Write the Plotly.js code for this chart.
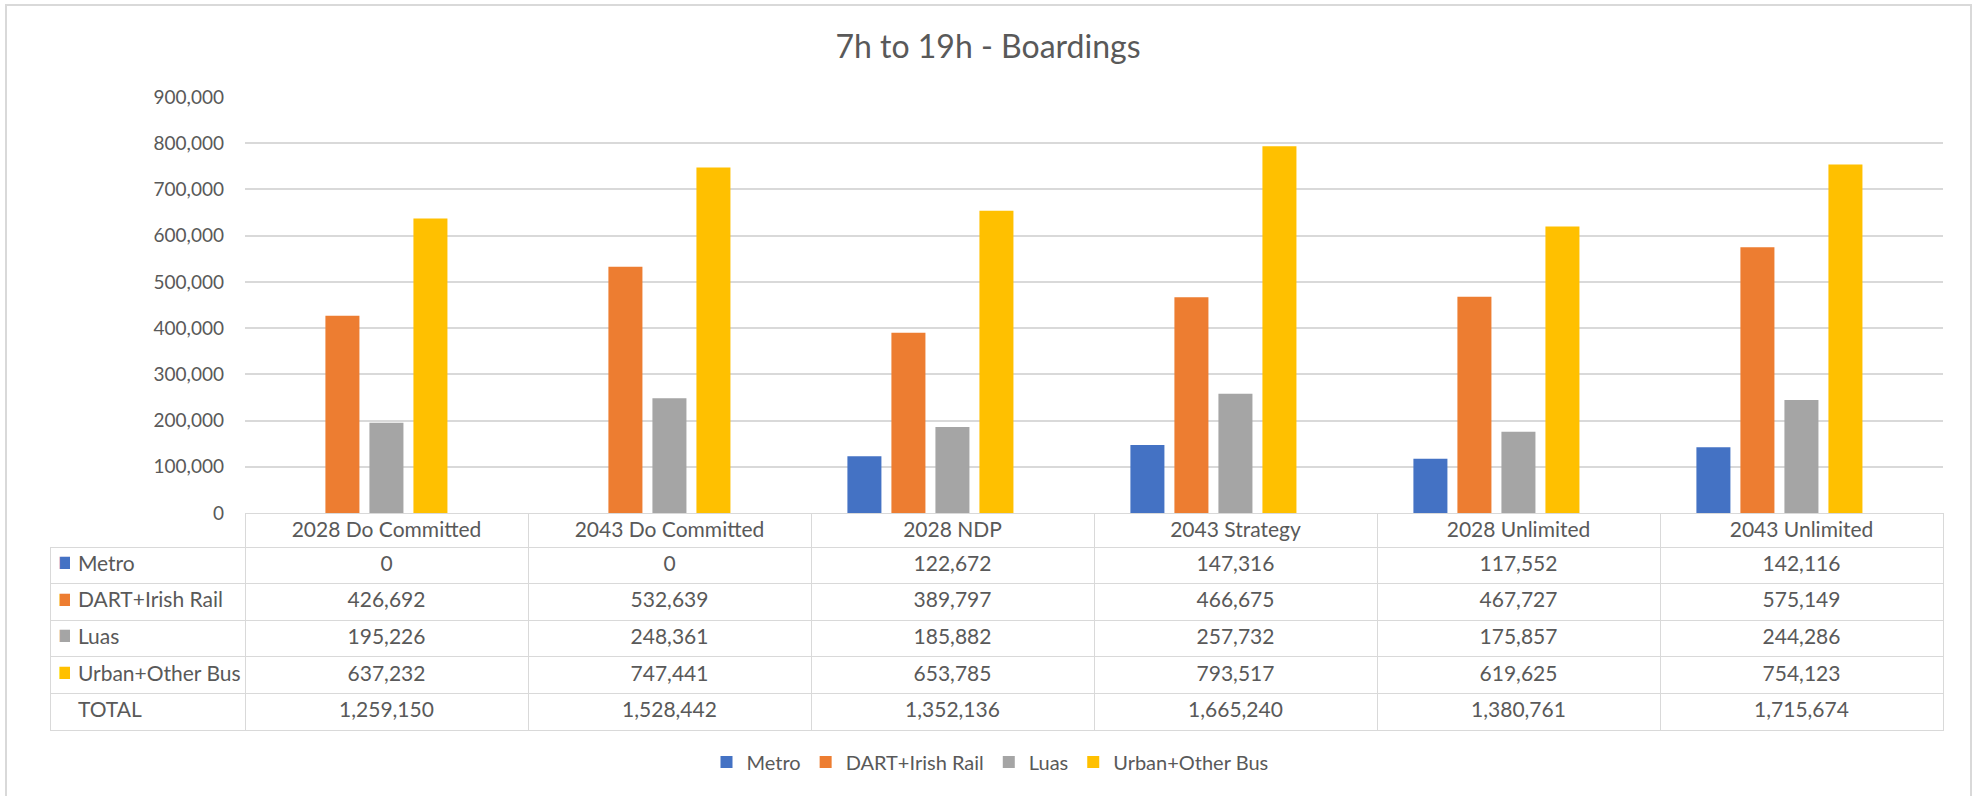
<!DOCTYPE html>
<html>
<head>
<meta charset="utf-8">
<script src="https://cdn.plot.ly/plotly-3.0.1.min.js"></script>
<style>html,body{margin:0;padding:0;background:#fff;}#chart{width:1973px;height:796px;}</style>
</head>
<body>
<div id="chart"></div>
<script>
// ---- data ----
const categories = ["2028 Do Committed", "2043 Do Committed", "2028 NDP", "2043 Strategy", "2028 Unlimited", "2043 Unlimited"];
const seriesNames = ["Metro", "DART+Irish Rail", "Luas", "Urban+Other Bus"];
const metro = [0, 0, 122672, 147316, 117552, 142116];
const dartIrishRail = [426692, 532639, 389797, 466675, 467727, 575149];
const luas = [195226, 248361, 185882, 257732, 175857, 244286];
const urbanOtherBus = [637232, 747441, 653785, 793517, 619625, 754123];
const totals = [1259150, 1528442, 1352136, 1665240, 1380761, 1715674];
const totalLabel = "TOTAL";
const titleText = "7h to 19h - Boardings";

// ---- styling ----
const colors = ["#4472C4", "#ED7D31", "#A5A5A5", "#FFC000"];
const textColor = "#595959";
const gridColor = "#D9D9D9";
const fontFamily = "Lato, 'Open Sans', sans-serif";
const W = 1973, H = 796;
const clear = "rgba(0,0,0,0)";

const seriesValues = [metro, dartIrishRail, luas, urbanOtherBus];

const barTraces = seriesNames.map((name, i) => ({
  type: "bar",
  name: name,
  x: categories,
  y: seriesValues[i],
  marker: {color: colors[i]},
  hoverinfo: "x+y+name"
}));

const fmt = v => v.toLocaleString("en-US");
const nb = s => s.replace(/ /g, "\u00A0");

// data table (grid + values) built from the arrays above
const rowLabels = seriesNames.map(n => nb(n)).concat([totalLabel]);
const tableColumns = [rowLabels.map(() => "")];
categories.forEach((c, j) => {
  const col = seriesValues.map(s => fmt(s[j]));
  col.push(fmt(totals[j]));
  tableColumns.push(col);
});

const headerLineColors = [clear].concat(categories.map(() => gridColor));
const headerFillColors = [clear].concat(categories.map(() => "#ffffff"));
const tableDomainY = [1 - 745 / H, 1 - 513 / H];
const headerH = 34, cellH = 36.6;

const tableTrace = {
  type: "table",
  domain: {x: [50 / W, 1943 / W], y: tableDomainY},
  columnwidth: [195].concat(categories.map(() => 283)),
  header: {
    values: [""].concat(categories.map(nb)),
    height: headerH,
    align: "center",
    fill: {color: headerFillColors},
    line: {color: headerLineColors, width: 1},
    font: {family: fontFamily, size: 21, color: textColor}
  },
  cells: {
    values: tableColumns,
    height: cellH,
    align: "center",
    fill: {color: "#ffffff"},
    line: {color: gridColor, width: 1},
    font: {family: fontFamily, size: 21, color: textColor}
  },
  hoverinfo: "none"
};

// row keys (colour swatch + series name) laid over the table's first column
const keyTrace = {
  type: "table",
  domain: {x: [50 / W, 245 / W], y: tableDomainY},
  columnwidth: [20, 175],
  header: {
    values: ["", ""],
    height: headerH,
    fill: {color: clear},
    line: {color: clear, width: 0}
  },
  cells: {
    values: [seriesNames.map(() => "\u25A0").concat([""]), rowLabels],
    height: cellH,
    align: "left",
    fill: {color: clear},
    line: {color: clear, width: 0},
    font: {
      family: ["'DejaVu Sans', sans-serif", fontFamily],
      size: [16, 21],
      color: [colors.concat([clear]), textColor]
    }
  },
  hoverinfo: "none"
};

const layout = {
  width: W,
  height: H,
  margin: {l: 0, r: 0, t: 0, b: 0},
  paper_bgcolor: "#ffffff",
  plot_bgcolor: "#ffffff",
  font: {family: fontFamily, color: textColor, size: 19},
  title: {
    text: titleText,
    font: {family: fontFamily, size: 32, color: textColor},
    x: 988 / W, xanchor: "center",
    y: 1 - 47 / H, yanchor: "middle"
  },
  barmode: "group",
  bargap: 0.378,
  bargroupgap: 0.227,
  xaxis: {
    domain: [245 / W, 1943 / W],
    range: [-0.422, 5.578],
    showticklabels: false,
    showgrid: false,
    zeroline: false,
    showline: false,
    ticks: "",
    fixedrange: true
  },
  yaxis: {
    domain: [1 - 513 / H, 1 - 97 / H],
    range: [0, 900000],
    dtick: 100000,
    tickformat: ",d",
    showgrid: true,
    gridcolor: gridColor,
    gridwidth: 1.5,
    zeroline: false,
    showline: false,
    ticks: "",
    ticklabelstandoff: 20,
    tickfont: {family: fontFamily, size: 19, color: textColor},
    fixedrange: true
  },
  showlegend: true,
  legend: {
    orientation: "h",
    x: 990 / W, xanchor: "center",
    y: 1 - 762 / H, yanchor: "middle",
    font: {family: fontFamily, size: 20, color: textColor},
    itemclick: false, itemdoubleclick: false
  },
  shapes: [{
    type: "rect", xref: "paper", yref: "paper",
    x0: 6 / W, x1: 1971 / W, y0: -0.05, y1: 1 - 5 / H,
    line: {color: "#D9D9D9", width: 2},
    fillcolor: "rgba(0,0,0,0)",
    layer: "below"
  }]
};

Plotly.newPlot("chart", barTraces.concat([tableTrace, keyTrace]), layout, {displayModeBar: false});
</script>
</body>
</html>
